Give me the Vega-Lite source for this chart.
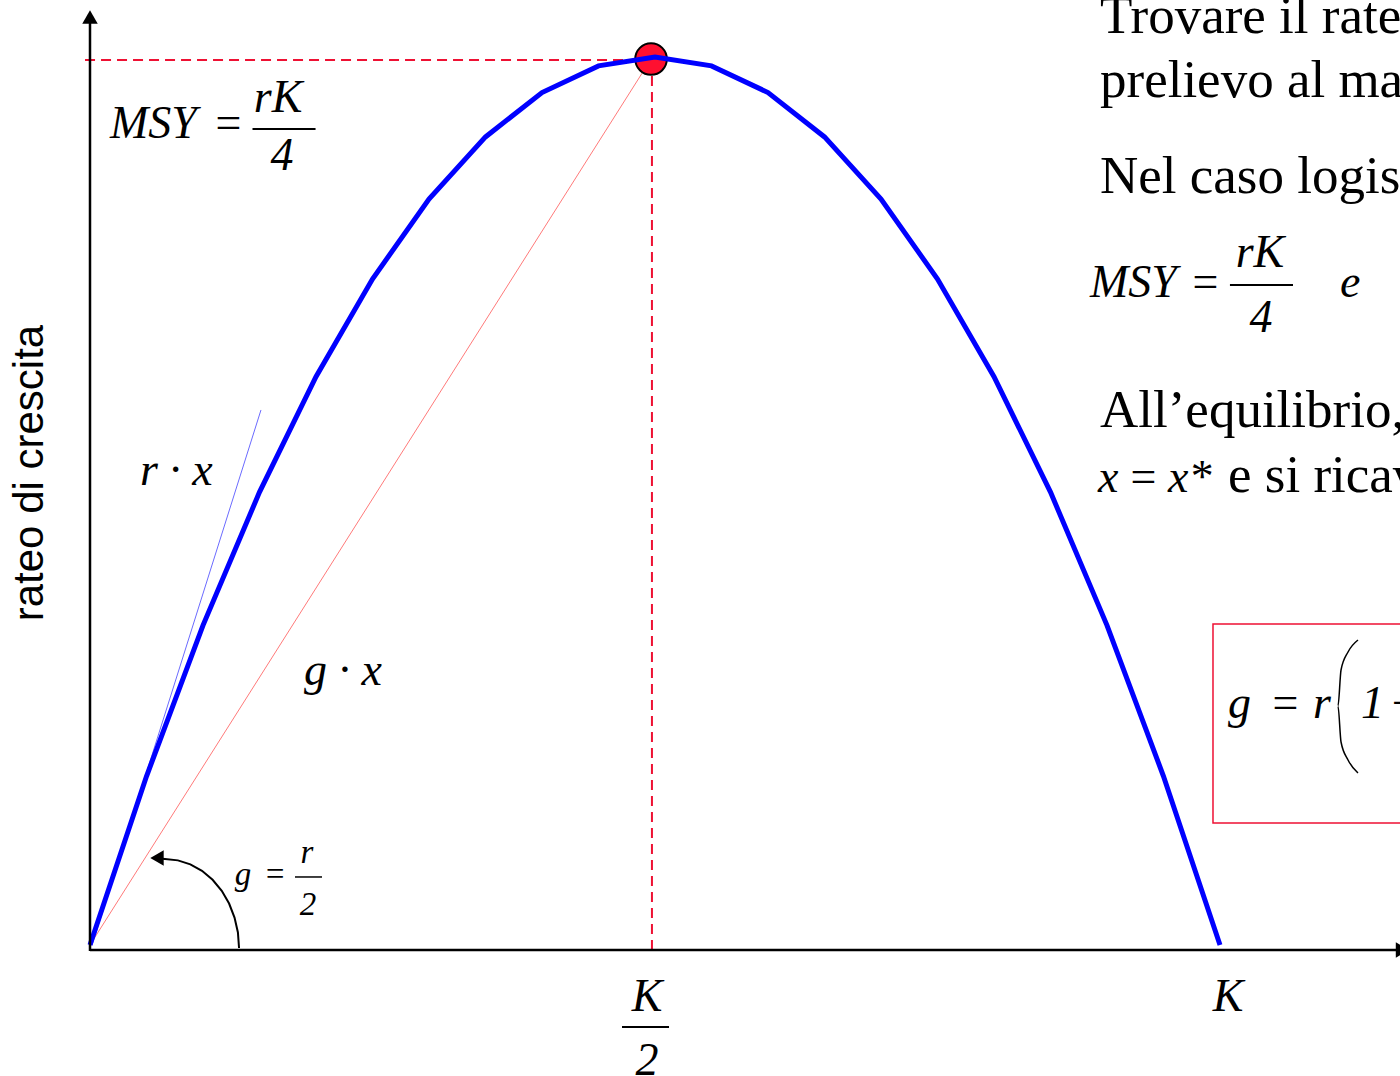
{
  "$schema": "https://vega.github.io/schema/vega-lite/v6.json",
  "width": 1400,
  "height": 1076,
  "padding": 0,
  "autosize": {"type": "fit", "contains": "padding"},
  "background": "white",
  "config": {"view": {"stroke": null}},
  "datasets": {
    "curve": [
      {"x": 0.0, "y": 0.0}, {"x": 0.05, "y": 0.19}, {"x": 0.1, "y": 0.36}, {"x": 0.15, "y": 0.51},
      {"x": 0.2, "y": 0.64}, {"x": 0.25, "y": 0.75}, {"x": 0.3, "y": 0.84}, {"x": 0.35, "y": 0.91},
      {"x": 0.4, "y": 0.96}, {"x": 0.45, "y": 0.99}, {"x": 0.5, "y": 1.0}, {"x": 0.55, "y": 0.99},
      {"x": 0.6, "y": 0.96}, {"x": 0.65, "y": 0.91}, {"x": 0.7, "y": 0.84}, {"x": 0.75, "y": 0.75},
      {"x": 0.8, "y": 0.64}, {"x": 0.85, "y": 0.51}, {"x": 0.9, "y": 0.36}, {"x": 0.95, "y": 0.19},
      {"x": 1.0, "y": 0.0}
    ],
    "dashed": [
      {"x": -0.0044, "x2": 0.4965, "y": 0.9966, "y2": 0.9966},
      {"x": 0.4973, "x2": 0.4973, "y": 0.9966, "y2": -0.0056}
    ],
    "guides": [
      {"series": "r·x", "x": 0.0018, "y": 0.0, "x2": 0.1513, "y2": 0.6025},
      {"series": "g·x", "x": 0.0, "y": 0.0, "x2": 0.4965, "y2": 0.9977}
    ],
    "msy": [{"x": 0.4965, "y": 0.9977}],
    "axes": [
      {"x": 0.0, "x2": 0.0, "y": -0.0068, "y2": 1.04},
      {"x": 0.0, "x2": 1.1575, "y": -0.0056, "y2": -0.0056}
    ],
    "heads": [
      {"dir": "up", "x": 0.0, "y": 1.045},
      {"dir": "right", "x": 1.1615, "y": -0.0056},
      {"dir": "left", "x": 0.0593, "y": 0.098}
    ],
    "arc": [
      {"i": 0, "x": 0.1319, "y": -0.0034}, {"i": 1, "x": 0.1309, "y": 0.0141},
      {"i": 2, "x": 0.1279, "y": 0.0309}, {"i": 3, "x": 0.1231, "y": 0.0467},
      {"i": 4, "x": 0.1166, "y": 0.061}, {"i": 5, "x": 0.1085, "y": 0.0734},
      {"i": 6, "x": 0.0991, "y": 0.0835}, {"i": 7, "x": 0.0888, "y": 0.0908},
      {"i": 8, "x": 0.0778, "y": 0.0953}, {"i": 9, "x": 0.0664, "y": 0.0969},
      {"i": 10, "x": 0.0602, "y": 0.0973}
    ],
    "paren": [
      {"i": 0, "x": 1.1221, "y": 0.3435}, {"i": 1, "x": 1.1133, "y": 0.33},
      {"i": 2, "x": 1.1071, "y": 0.3097}, {"i": 3, "x": 1.1044, "y": 0.2691},
      {"i": 4, "x": 1.1071, "y": 0.2286}, {"i": 5, "x": 1.1133, "y": 0.2083},
      {"i": 6, "x": 1.1221, "y": 0.1937}
    ],
    "box": [{"x": 0.9938, "x2": 1.25, "y": 0.3615, "y2": 0.1374}],
    "fracs": [
      {"x": 0.1438, "x2": 0.1996, "y": 0.9189, "y2": 0.9189},
      {"x": 0.4708, "x2": 0.5124, "y": -0.0923, "y2": -0.0923},
      {"x": 1.0088, "x2": 1.0646, "y": 0.7432, "y2": 0.7432}
    ],
    "smallfrac": [{"x": 0.1814, "x2": 0.2053, "y": 0.0766, "y2": 0.0766}],
    "mathLeft": [
      {"t": "MSY", "x": 0.0177, "y": 0.9088},
      {"t": "r · x", "x": 0.0442, "y": 0.518},
      {"t": "g · x", "x": 0.1894, "y": 0.2928},
      {"t": "MSY", "x": 0.885, "y": 0.7297},
      {"t": "e", "x": 1.1062, "y": 0.7297},
      {"t": "g", "x": 1.0071, "y": 0.2556},
      {"t": "r", "x": 1.0823, "y": 0.2556},
      {"t": "1", "x": 1.1248, "y": 0.2556},
      {"t": "−", "x": 1.1495, "y": 0.2556},
      {"t": "x", "x": 0.892, "y": 0.5101},
      {"t": "x*", "x": 0.954, "y": 0.5101}
    ],
    "mathCenter": [
      {"t": "=", "x": 0.1221, "y": 0.9088},
      {"t": "rK", "x": 0.1664, "y": 0.9381},
      {"t": "4", "x": 0.1699, "y": 0.8727},
      {"t": "K", "x": 0.4929, "y": -0.0744},
      {"t": "2", "x": 0.4929, "y": -0.1464},
      {"t": "K", "x": 1.0071, "y": -0.0744},
      {"t": "=", "x": 0.9867, "y": 0.7297},
      {"t": "rK", "x": 1.0354, "y": 0.7635},
      {"t": "4", "x": 1.0363, "y": 0.6903},
      {"t": "=", "x": 1.0575, "y": 0.2556},
      {"t": "=", "x": 0.9319, "y": 0.5101}
    ],
    "mathSmall": [
      {"t": "g", "x": 0.1354, "y": 0.0676},
      {"t": "=", "x": 0.1637, "y": 0.0676},
      {"t": "r", "x": 0.192, "y": 0.0923},
      {"t": "2", "x": 0.1929, "y": 0.0338}
    ],
    "prose": [
      {"t": "Trovare il rateo di", "x": 0.8938, "y": 1.027},
      {"t": "prelievo al massimo sostenibile", "x": 0.8938, "y": 0.955},
      {"t": "Nel caso logistico:", "x": 0.8938, "y": 0.8468},
      {"t": "All’equilibrio, g·x = h", "x": 0.8938, "y": 0.5833},
      {"t": "e si ricava", "x": 1.0071, "y": 0.5101}
    ],
    "ytitle": [{"t": "rateo di crescita", "x": -0.0416, "y": 0.5315}]
  },
  "encoding": {
    "x": {"field": "x", "type": "quantitative", "axis": null, "scale": {"domain": [-0.079646, 1.159292], "nice": false, "zero": false}},
    "y": {"field": "y", "type": "quantitative", "axis": null, "scale": {"domain": [-0.147523, 1.064189], "nice": false, "zero": false}}
  },
  "layer": [
    {
      "data": {"name": "box"},
      "mark": {"type": "rect", "fill": null, "fillOpacity": 0, "stroke": "#ee1133", "strokeWidth": 1.5, "clip": true},
      "encoding": {"x2": {"field": "x2"}, "y2": {"field": "y2"}}
    },
    {
      "data": {"name": "dashed"},
      "mark": {"type": "rule", "color": "#ee1133", "strokeWidth": 2, "strokeDash": [10, 6]},
      "encoding": {"x2": {"field": "x2"}, "y2": {"field": "y2"}}
    },
    {
      "data": {"name": "guides"},
      "mark": {"type": "rule", "strokeWidth": 1},
      "encoding": {
        "x2": {"field": "x2"}, "y2": {"field": "y2"},
        "color": {"field": "series", "type": "nominal", "legend": null, "scale": {"domain": ["r·x", "g·x"], "range": ["#6b6bff", "#ff7a7a"]}}
      }
    },
    {
      "data": {"name": "msy"},
      "mark": {"type": "point", "shape": "circle", "filled": true, "fill": "#ff1030", "stroke": "black", "strokeWidth": 2, "size": 1000, "opacity": 1}
    },
    {
      "data": {"name": "curve"},
      "mark": {"type": "line", "color": "#0000ff", "strokeWidth": 5, "strokeJoin": "miter"}
    },
    {
      "data": {"name": "axes"},
      "mark": {"type": "rule", "color": "black", "strokeWidth": 2.5, "clip": true},
      "encoding": {"x2": {"field": "x2"}, "y2": {"field": "y2"}}
    },
    {
      "data": {"name": "heads"},
      "mark": {"type": "point", "filled": true, "color": "black", "size": 240, "opacity": 1, "clip": true},
      "encoding": {
        "shape": {"field": "dir", "type": "nominal", "legend": null, "scale": {"domain": ["up", "right", "left"], "range": ["triangle-up", "triangle-right", "triangle-left"]}}
      }
    },
    {
      "data": {"name": "arc"},
      "mark": {"type": "line", "color": "black", "strokeWidth": 2},
      "encoding": {"order": {"field": "i", "type": "quantitative"}}
    },
    {
      "data": {"name": "paren"},
      "mark": {"type": "line", "color": "black", "strokeWidth": 1.5, "interpolate": "monotone"},
      "encoding": {"order": {"field": "i", "type": "quantitative"}}
    },
    {
      "data": {"name": "fracs"},
      "mark": {"type": "rule", "color": "black", "strokeWidth": 2},
      "encoding": {"x2": {"field": "x2"}, "y2": {"field": "y2"}}
    },
    {
      "data": {"name": "smallfrac"},
      "mark": {"type": "rule", "color": "black", "strokeWidth": 1.5},
      "encoding": {"x2": {"field": "x2"}, "y2": {"field": "y2"}}
    },
    {
      "data": {"name": "mathLeft"},
      "mark": {"type": "text", "font": "Liberation Serif", "fontStyle": "italic", "fontSize": 46, "align": "left", "baseline": "alphabetic", "color": "black", "clip": true},
      "encoding": {"text": {"field": "t"}}
    },
    {
      "data": {"name": "mathCenter"},
      "mark": {"type": "text", "font": "Liberation Serif", "fontStyle": "italic", "fontSize": 46, "align": "center", "baseline": "alphabetic", "color": "black", "clip": true},
      "encoding": {"text": {"field": "t"}}
    },
    {
      "data": {"name": "mathSmall"},
      "mark": {"type": "text", "font": "Liberation Serif", "fontStyle": "italic", "fontSize": 33, "align": "center", "baseline": "alphabetic", "color": "black"},
      "encoding": {"text": {"field": "t"}}
    },
    {
      "data": {"name": "prose"},
      "mark": {"type": "text", "font": "Liberation Serif", "fontSize": 53, "align": "left", "baseline": "alphabetic", "color": "black", "clip": true},
      "encoding": {"text": {"field": "t"}}
    },
    {
      "data": {"name": "ytitle"},
      "mark": {"type": "text", "font": "Liberation Sans", "fontSize": 42, "angle": 270, "align": "center", "baseline": "alphabetic", "color": "black"},
      "encoding": {"text": {"field": "t"}}
    }
  ]
}
